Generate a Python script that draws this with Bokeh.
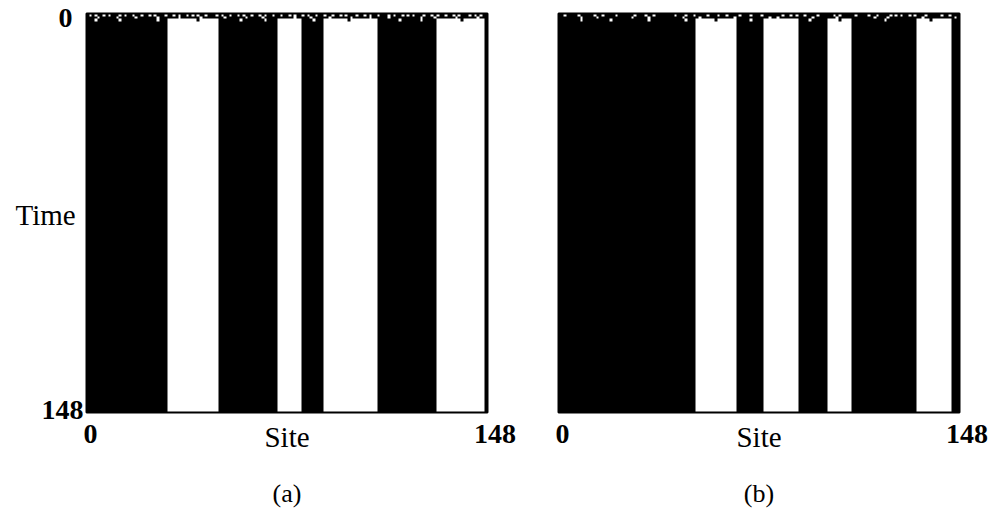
import numpy as np
from bokeh.plotting import figure
from bokeh.models import Range1d, Label, LinearColorMapper
from bokeh.layouts import row
from bokeh.embed import file_html
from bokeh.resources import INLINE

# ---------------- data ----------------
N_SITES = 149
N_STEPS = 149

# white (state 0) column runs after the transient, [start, end)
A_WHITE_RUNS = [(30, 49), (71, 80), (88, 108), (130, 148)]
B_WHITE_RUNS = [(51, 66), (76, 89), (100, 109), (133, 146)]

# first rows (transient), 1 = black, 0 = white
A_ROW0 = ("1010110101 1101011011 0110101110 1101011010 1011011101 0110110101 1011010110 "
          "1101101011 0101101101 1011010111 0110101101 1101011010 1011101101 0110110101 110101011")
A_ROW1 = ("1111011111 1011111101 1111110111 1111011111 1101111111 1011111110 1111101111 "
          "1111111011 1110111111 0111111101 1111101111 1101111111 1111011110 1111111011 111110111")
A_ROW2_FLIPS = [3, 12, 26, 41, 57, 66, 84, 97, 116, 124, 139]

B_ROW0 = ("1101111011 1110110111 1011111101 1101101111 1110111011 0111101110 1101111011 "
          "1011101111 1110110101 1011110111 1101011111 0111101101 1110101011 0101110111 110110111")
B_ROW1 = ("1111111101 1111011111 1111111011 1110111111 1111110111 1101111111 1111101111 "
          "1111111101 1011111111 1111011111 1110111111 1111111011 1101111111 1111101111 111111101")
B_ROW2_FLIPS = [8, 19, 33, 47, 58, 71, 93, 104, 121, 138]

TICK_FIRST = "0"
TICK_LAST = "148"
X_LABEL = "Site"
Y_LABEL = "Time"
CAPTIONS = ["(a)", "(b)"]


def parse_row(s):
    s = s.replace(" ", "")
    s = (s + "1" * N_SITES)[:N_SITES]
    return np.array([int(c) for c in s])


def build_grid(white_runs, row0, row1, flips):
    base = np.ones(N_SITES, dtype=int)
    for s, e in white_runs:
        base[s:e] = 0
    grid = np.tile(base, (N_STEPS, 1))
    grid[0] = parse_row(row0)
    grid[1] = parse_row(row1)
    r2 = base.copy()
    for f in flips:
        r2[f] = 1 - r2[f]
    grid[2] = r2
    return grid


SERIF = "Liberation Serif"
H = 523
IMG_W_PX = 401.0
IMG_H_PX = 399.0
IMG_TOP_PX = 13.0


def make_panel(grid, caption, width, img_left_px, show_y):
    sx = IMG_W_PX / N_SITES
    sy = IMG_H_PX / N_STEPS
    x0 = -img_left_px / sx
    x1 = (width - img_left_px) / sx
    y1 = N_STEPS + IMG_TOP_PX / sy
    y0 = -(H - IMG_TOP_PX - IMG_H_PX) / sy
    p = figure(width=width, height=H, output_backend="svg", toolbar_location=None,
               x_range=Range1d(x0, x1), y_range=Range1d(y0, y1),
               x_axis_location=None, y_axis_location=None,
               min_border=0, min_border_left=0, min_border_right=0,
               min_border_top=0, min_border_bottom=0)
    p.grid.visible = False
    p.outline_line_color = None
    p.background_fill_color = "white"
    p.border_fill_color = "white"
    mapper = LinearColorMapper(palette=["#ffffff", "#000000"], low=0, high=1)
    # time 0 at the top: flip rows for bokeh's bottom-up image
    p.image(image=[grid[::-1]], x=0, y=0, dw=N_SITES, dh=N_STEPS, color_mapper=mapper)
    p.quad(left=[0], right=[N_SITES], bottom=[0], top=[N_STEPS],
           fill_color=None, line_color="black", line_width=2)

    def lab(x, y, t, bold=False, align="center", size="28px"):
        p.add_layout(Label(x=x, y=y, text=t, text_font=SERIF, text_font_size=size,
                           text_font_style="bold" if bold else "normal",
                           text_align=align, text_baseline="middle", text_color="black"))

    lab(1.5, -8.2, TICK_FIRST, bold=True)
    lab(151.8, -8.2, TICK_LAST, bold=True)
    lab(74.5, -9.3, X_LABEL, size="29px")
    lab(74.5, -30.2, caption, size="26px")
    if show_y:
        lab(-7.8, 147.3, TICK_FIRST, bold=True)
        lab(-1.1, 1.1, TICK_LAST, bold=True, align="right")
        lab(-15.2, 73.6, Y_LABEL, size="29px")
    return p


grid_a = build_grid(A_WHITE_RUNS, A_ROW0, A_ROW1, A_ROW2_FLIPS)
grid_b = build_grid(B_WHITE_RUNS, B_ROW0, B_ROW1, B_ROW2_FLIPS)

pa = make_panel(grid_a, CAPTIONS[0], 522, 86, True)
pb = make_panel(grid_b, CAPTIONS[1], 468, 36, False)

layout = row(pa, pb)
open("out.html", "w").write(file_html(layout, INLINE))
